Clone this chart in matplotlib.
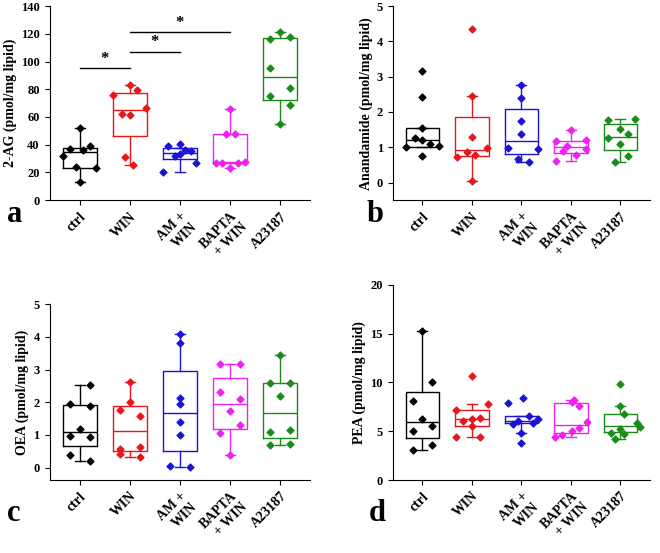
import matplotlib
matplotlib.use("Agg")
import matplotlib.pyplot as plt

plt.rcParams['font.family'] = ['Liberation Serif', 'DejaVu Serif']
plt.rcParams['font.weight'] = 'bold'

groups = ["ctrl", "WIN", "AM +\nWIN", "BAPTA\n+ WIN", "A23187"]
colors = ["black", "#e8161b", "#1a12d6", "#f21ff2", "#1a8a1a"]

# panel a: 2-AG
ag_pts = [[52, 37, 32, 36.5, 39, 24, 23, 13],
          [76, 83, 79.5, 62.5, 61.5, 66.5, 31, 25.5],
          [20, 39, 32, 33, 40.5, 36.5, 35.5, 27],
          [27, 26.5, 23.5, 47.5, 47.5, 65.5, 26.5, 27.5],
          [116, 121, 118, 95.5, 75.5, 81, 69, 55]]
ag_box = [(13, 23.5, 35, 38, 52), (25.5, 46.5, 65, 77.5, 83), (20.5, 29.5, 34, 38, 38),
          (23.5, 27, 27.5, 47.5, 65.5), (55, 72, 88.5, 117, 121)]
ag_off = [[0, -0.2, -0.33, 0.07, 0.2, -0.07, 0.33, 0],
          [-0.33, 0, 0.15, -0.15, 0, 0.33, -0.1, 0.07],
          [-0.33, -0.23, -0.1, 0, 0, 0.1, 0.23, 0.33],
          [-0.27, -0.15, 0, -0.07, 0.1, 0, 0.15, 0.3],
          [-0.2, 0, 0.2, -0.2, -0.2, 0.2, 0.2, 0]]

# panel b: Anandamide
an_pts = [[3.17, 2.43, 1.55, 1.27, 1.2, 1.0, 1.08, 1.03, 0.74],
          [4.35, 2.45, 1.3, 0.73, 0.87, 0.78, 0.98, 0.05],
          [2.75, 2.4, 1.75, 1.37, 0.97, 0.67, 0.57, 0.94],
          [1.5, 1.17, 1.04, 1.2, 0.88, 0.77, 0.94, 0.61],
          [1.77, 1.25, 1.53, 1.37, 1.79, 1.09, 0.76, 0.57]]
an_box = [(1.02, 1.02, 1.2, 1.55, 1.55), (0.05, 0.75, 0.92, 1.87, 2.45), (0.57, 0.8, 1.17, 2.08, 2.75),
          (0.62, 0.84, 1.0, 1.18, 1.5), (0.57, 0.93, 1.3, 1.65, 1.79)]
an_off = [[0, 0, 0, -0.15, 0, -0.33, 0.15, 0.33, 0],
          [0, 0, 0, -0.3, -0.1, 0.07, 0.3, 0],
          [0, 0, 0, 0, -0.28, -0.07, 0.15, 0.33],
          [0, -0.3, -0.07, 0.3, -0.15, 0.1, 0.3, -0.3],
          [-0.25, -0.25, 0, 0.15, 0.3, 0, 0.15, -0.1]]

# panel c: OEA
oea_pts = [[2.53, 1.95, 1.87, 1.18, 0.98, 0.93, 0.37, 0.2],
           [2.62, 2.0, 1.75, 1.58, 0.57, 0.42, 0.63, 0.32],
           [4.1, 3.8, 2.12, 1.93, 1.38, 0.99, 0.06, 0.03],
           [3.18, 3.18, 2.3, 2.1, 1.74, 1.31, 1.05, 0.4],
           [3.43, 2.6, 2.58, 2.2, 1.08, 1.15, 0.68, 0.73]]
oea_box = [(0.2, 0.66, 1.09, 1.9, 2.53), (0.33, 0.5, 1.12, 1.88, 2.62), (0.03, 0.52, 1.67, 2.95, 4.1),
           (0.4, 1.18, 1.93, 2.75, 3.18), (0.68, 0.9, 1.67, 2.6, 3.43)]
oea_off = [[0.2, -0.2, 0.2, 0, -0.2, 0.2, -0.2, 0.2],
           [0, 0, -0.2, 0.2, -0.2, -0.2, 0.2, 0.2],
           [0, 0, 0, 0, 0, 0, -0.2, 0.2],
           [-0.2, 0.2, -0.2, 0.2, 0, 0.2, -0.2, 0],
           [0, -0.2, 0.2, 0, -0.2, 0.2, -0.2, 0.2]]

# panel d: PEA
pea_pts = [[15.3, 10.0, 8.05, 6.3, 5.05, 5.5, 3.55, 3.1],
           [10.7, 7.8, 7.15, 6.4, 6.3, 6.0, 5.5, 4.45, 4.45],
           [8.45, 7.9, 6.55, 6.3, 6.05, 5.75, 5.8, 4.85, 3.8],
           [8.15, 8.0, 7.6, 5.95, 5.35, 5.05, 4.6, 4.45],
           [9.85, 7.6, 6.75, 5.85, 5.45, 4.85, 5.2, 4.75, 4.15]]
pea_box = [(3.1, 4.3, 5.9, 9.05, 15.3), (4.45, 5.5, 6.3, 7.15, 7.8), (4.85, 5.8, 6.0, 6.55, 6.55),
           (4.45, 4.85, 5.65, 7.85, 8.15), (4.15, 4.9, 5.5, 6.75, 7.6)]
pea_off = [[0, 0.2, -0.2, 0, -0.2, 0.2, 0.2, -0.2],
           [0, 0.33, -0.33, 0.17, 0, -0.17, 0, -0.33, 0.17],
           [0.03, -0.28, 0.15, 0.33, -0.07, -0.17, 0.24, 0, 0],
           [0.07, 0.03, 0.17, 0.33, 0.17, 0.03, -0.17, -0.33],
           [0, 0, 0.07, 0.33, 0.4, -0.2, 0, 0.07, -0.1]]

panels = [
    ("2-AG (pmol/mg lipid)", ag_pts, ag_box, ag_off, (0, 140), 20, [0.075, 0.638, 0.395, 0.351], "a", (0.01, 0.585)),
    ("Anandamide (pmol/mg lipid)", an_pts, an_box, an_off, (-0.5, 5), 1, [0.595, 0.638, 0.39, 0.351], "b", (0.555, 0.585)),
    ("OEA (pmol/mg lipid)", oea_pts, oea_box, oea_off, (-0.38, 5), 1, [0.075, 0.132, 0.395, 0.318], "c", (0.01, 0.045)),
    ("PEA (pmol/mg lipid)", pea_pts, pea_box, pea_off, (0, 20), 5, [0.595, 0.132, 0.39, 0.353], "d", (0.558, 0.045)),
]

fig = plt.figure(figsize=(6.6, 5.53), dpi=100)
for ylabel, pts, box, off, ylim, step, rect, letter, lpos in panels:
    ax = fig.add_axes(rect)
    for i in range(5):
        lo, q1, med, q3, hi = box[i]
        stats = [dict(whislo=lo, q1=q1, med=med, q3=q3, whishi=hi)]
        c = colors[i]
        ax.bxp(stats, positions=[i], widths=0.68, capwidths=0.2, showfliers=False, showcaps=True,
               boxprops=dict(color=c, lw=1), medianprops=dict(color=c, lw=1),
               whiskerprops=dict(color=c, lw=1), capprops=dict(color=c, lw=1))
        xs = [i + o for o in off[i]]
        ax.scatter(xs, pts[i], marker='D', s=12, color=c, zorder=3)
    ax.set_xlim(-0.6, 4.6)
    ax.set_ylim(*ylim)
    ax.set_yticks([v * step for v in range(int(ylim[1] / step) + 1)])
    ax.set_xticks(range(5))
    ax.set_xticklabels(groups, rotation=45, ha='right', rotation_mode='anchor', fontsize=10, fontweight='bold')
    ax.tick_params(axis='y', labelsize=9)
    ax.set_ylabel(ylabel, fontsize=10, fontweight='bold', labelpad=3)
    for s in ("top", "right"):
        ax.spines[s].set_visible(False)
    fig.text(lpos[0], lpos[1], letter, fontsize=22, fontweight='bold', va='bottom')
    if letter == "a":
        for (x1, x2, y) in [(0, 1, 95), (1, 2, 107), (1, 3, 121)]:
            ax.plot([x1, x2], [y, y], color='black', lw=1)
            ax.text((x1 + x2) / 2, y + 1, "*", ha='center', va='bottom', fontsize=12)

fig.savefig("out.png", dpi=100)
